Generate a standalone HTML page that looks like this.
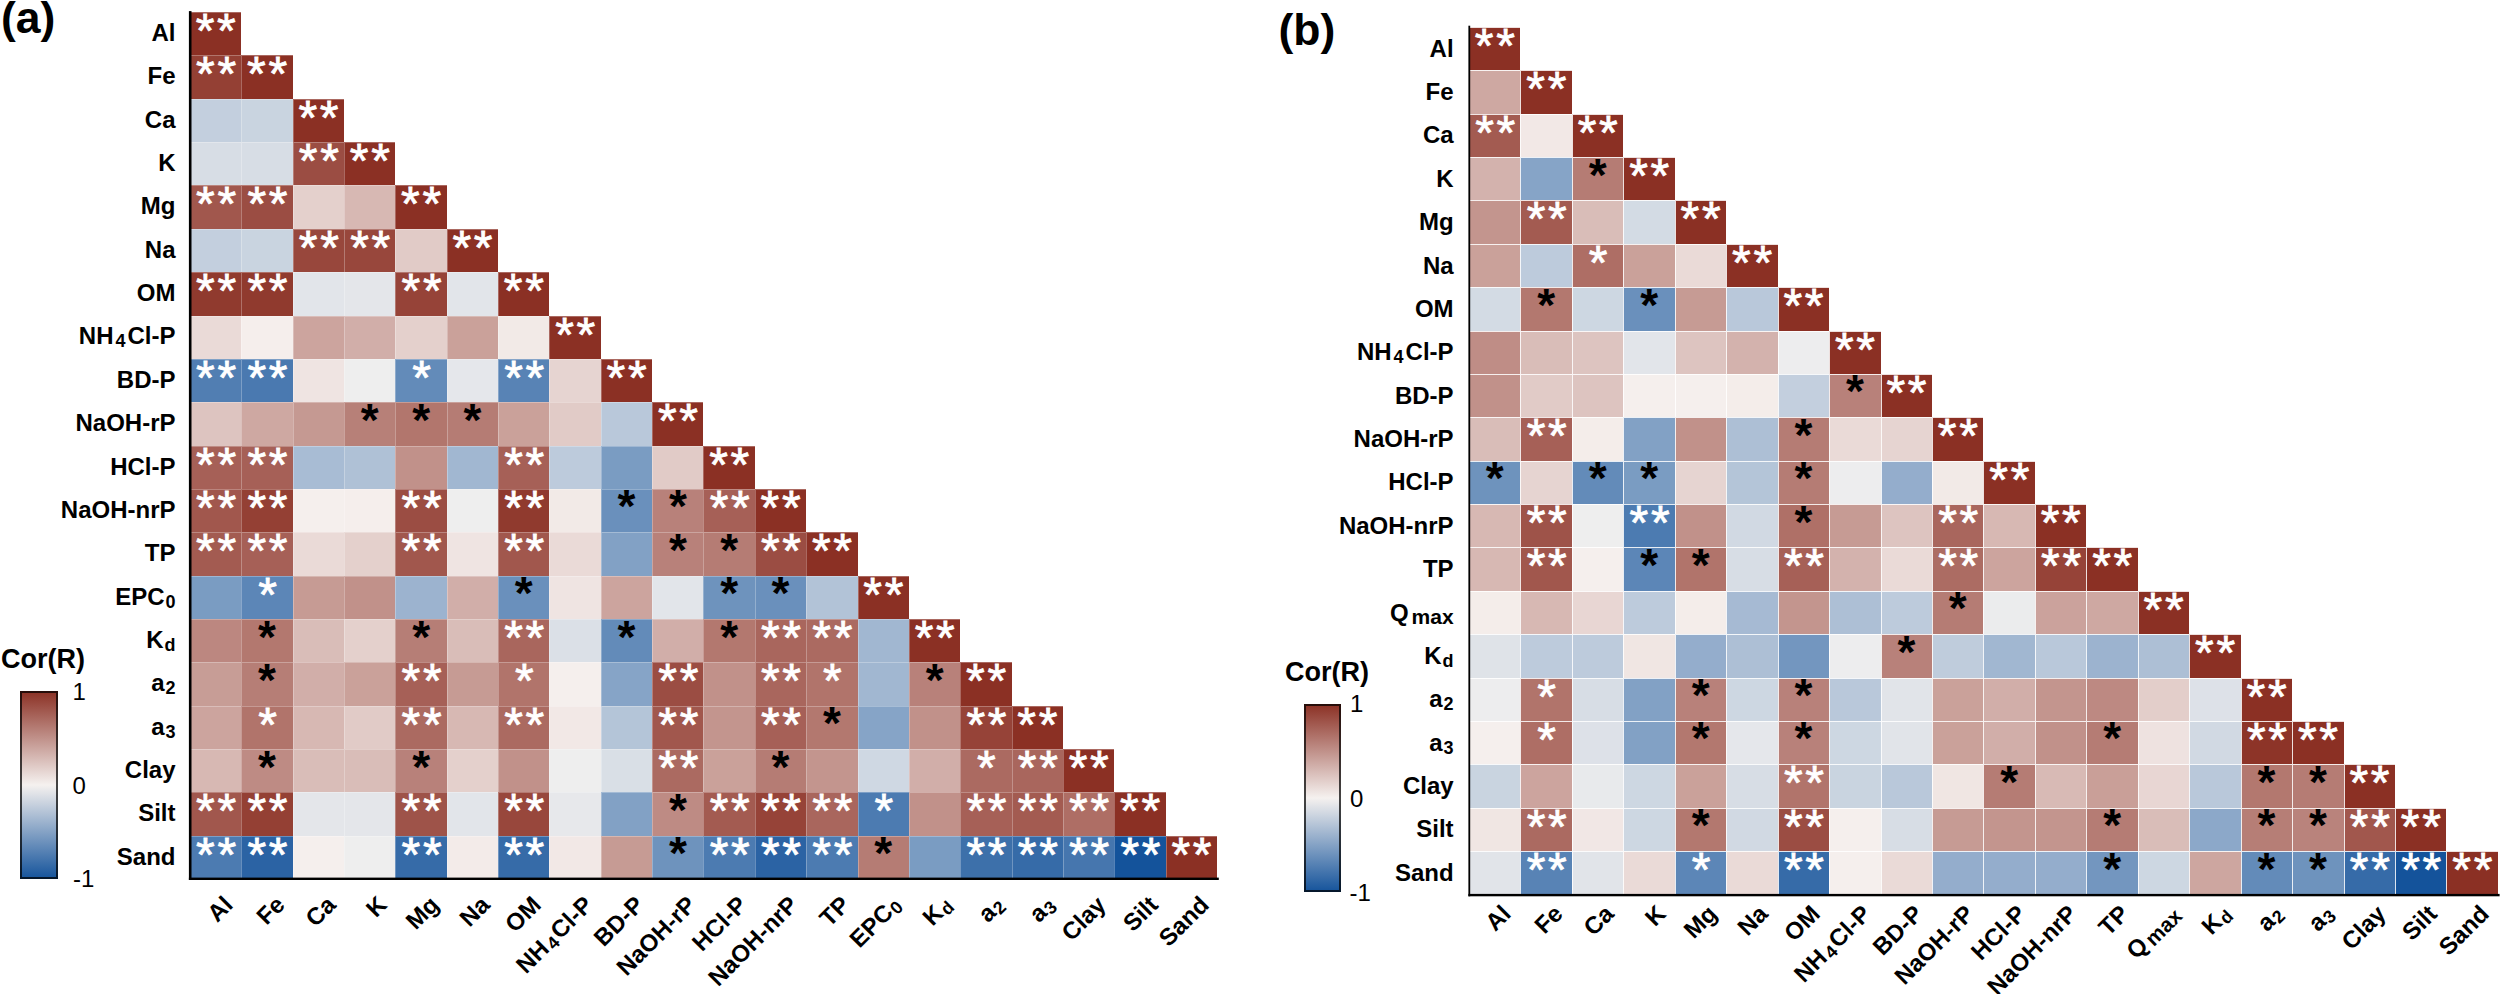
<!DOCTYPE html><html><head><meta charset="utf-8"><title>Correlation heatmaps</title><style>

html,body{margin:0;padding:0;background:#fff}
body{width:2500px;height:994px;position:relative;overflow:hidden;font-family:"Liberation Sans",Arial,sans-serif;color:#000}
.c{position:absolute;box-sizing:border-box;border-left:1px solid rgba(255,255,255,.28);border-top:1px solid rgba(255,255,255,.28);text-align:center;overflow:hidden}
.c b{display:block;font-size:48px;line-height:48px;margin-top:-6px;margin-left:-0.7px;letter-spacing:2.7px;padding-left:2.7px}
.c b.w{color:#fff;font-weight:400;-webkit-text-stroke:0.8px #fff}
.c b.k{color:#000;font-weight:700;font-size:46px;margin-top:-7.5px;margin-left:-1.6px}
.axs{position:absolute;left:0;top:0;pointer-events:none}
.c.sb2{border-left-color:rgba(255,255,255,.85);border-top-color:rgba(255,255,255,.85)}
.rl{position:absolute;text-align:right;font-weight:700;font-size:24px;line-height:30px;white-space:nowrap}
.cl{position:absolute;width:400px;height:30px;text-align:right;font-weight:700;font-size:24px;line-height:30px;white-space:nowrap;transform-origin:100% 80%;transform:rotate(-45deg)}
.sb{font-size:18px;position:relative;top:3px;margin-left:1px}
.sb.g{margin-left:2px;margin-right:2px}
.sb.g2{margin-left:3px;font-size:21px;top:3px}
.tag{position:absolute;font-weight:700;font-size:44.5px;line-height:48px}
.cb{position:absolute;box-sizing:border-box;border:2px solid rgba(0,0,0,.72);background-origin:border-box;background-image:linear-gradient(to bottom,#8b3024 0%,#f5f1ef 50%,#14539b 100%)}
.cbt{position:absolute;font-weight:700;font-size:27px;line-height:30px}
.tk{position:absolute;font-size:24px;line-height:26px}

</style></head><body>
<div class="tag" style="left:0.9px;top:-6.0px">(a)</div>
<div class="c sa" style="left:189.90px;top:12.00px;width:51.35px;height:44.16px;background:#8b3024"><b class="w">**</b></div>
<div class="c sa" style="left:189.90px;top:55.36px;width:52.15px;height:44.16px;background:#944034"><b class="w">**</b></div>
<div class="c sa" style="left:241.25px;top:55.36px;width:51.35px;height:44.16px;background:#8b3024"><b class="w">**</b></div>
<div class="c sa" style="left:189.90px;top:98.72px;width:52.15px;height:44.16px;background:#c3cfde"></div>
<div class="c sa" style="left:241.25px;top:98.72px;width:52.15px;height:44.16px;background:#c9d4e0"></div>
<div class="c sa" style="left:292.61px;top:98.72px;width:51.35px;height:44.16px;background:#8b3024"><b class="w">**</b></div>
<div class="c sa" style="left:189.90px;top:142.08px;width:52.15px;height:44.16px;background:#d7dde5"></div>
<div class="c sa" style="left:241.25px;top:142.08px;width:52.15px;height:44.16px;background:#d7dde5"></div>
<div class="c sa" style="left:292.61px;top:142.08px;width:52.15px;height:44.16px;background:#9b4d43"><b class="w">**</b></div>
<div class="c sa" style="left:343.97px;top:142.08px;width:51.35px;height:44.16px;background:#8b3024"><b class="w">**</b></div>
<div class="c sa" style="left:189.90px;top:185.44px;width:52.15px;height:44.16px;background:#a1574d"><b class="w">**</b></div>
<div class="c sa" style="left:241.25px;top:185.44px;width:52.15px;height:44.16px;background:#9b4d43"><b class="w">**</b></div>
<div class="c sa" style="left:292.61px;top:185.44px;width:52.15px;height:44.16px;background:#e4d0cc"></div>
<div class="c sa" style="left:343.97px;top:185.44px;width:52.15px;height:44.16px;background:#d7b8b3"></div>
<div class="c sa" style="left:395.32px;top:185.44px;width:51.35px;height:44.16px;background:#8b3024"><b class="w">**</b></div>
<div class="c sa" style="left:189.90px;top:228.80px;width:52.15px;height:44.16px;background:#c3cfde"></div>
<div class="c sa" style="left:241.25px;top:228.80px;width:52.15px;height:44.16px;background:#c9d4e0"></div>
<div class="c sa" style="left:292.61px;top:228.80px;width:52.15px;height:44.16px;background:#98473c"><b class="w">**</b></div>
<div class="c sa" style="left:343.97px;top:228.80px;width:52.15px;height:44.16px;background:#98473c"><b class="w">**</b></div>
<div class="c sa" style="left:395.32px;top:228.80px;width:52.15px;height:44.16px;background:#e1cbc7"></div>
<div class="c sa" style="left:446.67px;top:228.80px;width:51.35px;height:44.16px;background:#8b3024"><b class="w">**</b></div>
<div class="c sa" style="left:189.90px;top:272.16px;width:52.15px;height:44.16px;background:#903a2e"><b class="w">**</b></div>
<div class="c sa" style="left:241.25px;top:272.16px;width:52.15px;height:44.16px;background:#903a2e"><b class="w">**</b></div>
<div class="c sa" style="left:292.61px;top:272.16px;width:52.15px;height:44.16px;background:#e2e5ea"></div>
<div class="c sa" style="left:343.97px;top:272.16px;width:52.15px;height:44.16px;background:#e4e6ea"></div>
<div class="c sa" style="left:395.32px;top:272.16px;width:52.15px;height:44.16px;background:#964338"><b class="w">**</b></div>
<div class="c sa" style="left:446.67px;top:272.16px;width:52.15px;height:44.16px;background:#e2e5ea"></div>
<div class="c sa" style="left:498.03px;top:272.16px;width:51.35px;height:44.16px;background:#8b3024"><b class="w">**</b></div>
<div class="c sa" style="left:189.90px;top:315.52px;width:52.15px;height:44.16px;background:#eadad7"></div>
<div class="c sa" style="left:241.25px;top:315.52px;width:52.15px;height:44.16px;background:#f5eeec"></div>
<div class="c sa" style="left:292.61px;top:315.52px;width:52.15px;height:44.16px;background:#cca49e"></div>
<div class="c sa" style="left:343.97px;top:315.52px;width:52.15px;height:44.16px;background:#d1aea9"></div>
<div class="c sa" style="left:395.32px;top:315.52px;width:52.15px;height:44.16px;background:#e4d0cc"></div>
<div class="c sa" style="left:446.67px;top:315.52px;width:52.15px;height:44.16px;background:#caa19a"></div>
<div class="c sa" style="left:498.03px;top:315.52px;width:52.15px;height:44.16px;background:#f2eae7"></div>
<div class="c sa" style="left:549.38px;top:315.52px;width:51.35px;height:44.16px;background:#8b3024"><b class="w">**</b></div>
<div class="c sa" style="left:189.90px;top:358.88px;width:52.15px;height:44.16px;background:#517eb2"><b class="w">**</b></div>
<div class="c sa" style="left:241.25px;top:358.88px;width:52.15px;height:44.16px;background:#4a79b0"><b class="w">**</b></div>
<div class="c sa" style="left:292.61px;top:358.88px;width:52.15px;height:44.16px;background:#efe4e2"></div>
<div class="c sa" style="left:343.97px;top:358.88px;width:52.15px;height:44.16px;background:#eeeeee"></div>
<div class="c sa" style="left:395.32px;top:358.88px;width:52.15px;height:44.16px;background:#638bb9"><b class="w">*</b></div>
<div class="c sa" style="left:446.67px;top:358.88px;width:52.15px;height:44.16px;background:#e5e7eb"></div>
<div class="c sa" style="left:498.03px;top:358.88px;width:52.15px;height:44.16px;background:#5883b5"><b class="w">**</b></div>
<div class="c sa" style="left:549.38px;top:358.88px;width:52.15px;height:44.16px;background:#e6d4d1"></div>
<div class="c sa" style="left:600.74px;top:358.88px;width:51.35px;height:44.16px;background:#8b3024"><b class="w">**</b></div>
<div class="c sa" style="left:189.90px;top:402.24px;width:52.15px;height:44.16px;background:#ddc4c0"></div>
<div class="c sa" style="left:241.25px;top:402.24px;width:52.15px;height:44.16px;background:#cea8a2"></div>
<div class="c sa" style="left:292.61px;top:402.24px;width:52.15px;height:44.16px;background:#c59992"></div>
<div class="c sa" style="left:343.97px;top:402.24px;width:52.15px;height:44.16px;background:#b78078"><b class="k">*</b></div>
<div class="c sa" style="left:395.32px;top:402.24px;width:52.15px;height:44.16px;background:#b2766d"><b class="k">*</b></div>
<div class="c sa" style="left:446.67px;top:402.24px;width:52.15px;height:44.16px;background:#b57c74"><b class="k">*</b></div>
<div class="c sa" style="left:498.03px;top:402.24px;width:52.15px;height:44.16px;background:#caa19a"></div>
<div class="c sa" style="left:549.38px;top:402.24px;width:52.15px;height:44.16px;background:#e1cbc7"></div>
<div class="c sa" style="left:600.74px;top:402.24px;width:52.15px;height:44.16px;background:#b9c8da"></div>
<div class="c sa" style="left:652.10px;top:402.24px;width:51.35px;height:44.16px;background:#8b3024"><b class="w">**</b></div>
<div class="c sa" style="left:189.90px;top:445.60px;width:52.15px;height:44.16px;background:#a66057"><b class="w">**</b></div>
<div class="c sa" style="left:241.25px;top:445.60px;width:52.15px;height:44.16px;background:#a66057"><b class="w">**</b></div>
<div class="c sa" style="left:292.61px;top:445.60px;width:52.15px;height:44.16px;background:#a8bcd4"></div>
<div class="c sa" style="left:343.97px;top:445.60px;width:52.15px;height:44.16px;background:#afc1d6"></div>
<div class="c sa" style="left:395.32px;top:445.60px;width:52.15px;height:44.16px;background:#c1918a"></div>
<div class="c sa" style="left:446.67px;top:445.60px;width:52.15px;height:44.16px;background:#a1b7d1"></div>
<div class="c sa" style="left:498.03px;top:445.60px;width:52.15px;height:44.16px;background:#a66057"><b class="w">**</b></div>
<div class="c sa" style="left:549.38px;top:445.60px;width:52.15px;height:44.16px;background:#bdcbdc"></div>
<div class="c sa" style="left:600.74px;top:445.60px;width:52.15px;height:44.16px;background:#7a9cc2"></div>
<div class="c sa" style="left:652.10px;top:445.60px;width:52.15px;height:44.16px;background:#e1cbc7"></div>
<div class="c sa" style="left:703.45px;top:445.60px;width:51.35px;height:44.16px;background:#8b3024"><b class="w">**</b></div>
<div class="c sa" style="left:189.90px;top:488.96px;width:52.15px;height:44.16px;background:#a1574d"><b class="w">**</b></div>
<div class="c sa" style="left:241.25px;top:488.96px;width:52.15px;height:44.16px;background:#944034"><b class="w">**</b></div>
<div class="c sa" style="left:292.61px;top:488.96px;width:52.15px;height:44.16px;background:#f5efed"></div>
<div class="c sa" style="left:343.97px;top:488.96px;width:52.15px;height:44.16px;background:#f5eeec"></div>
<div class="c sa" style="left:395.32px;top:488.96px;width:52.15px;height:44.16px;background:#9b4d43"><b class="w">**</b></div>
<div class="c sa" style="left:446.67px;top:488.96px;width:52.15px;height:44.16px;background:#eeeeee"></div>
<div class="c sa" style="left:498.03px;top:488.96px;width:52.15px;height:44.16px;background:#903a2e"><b class="w">**</b></div>
<div class="c sa" style="left:549.38px;top:488.96px;width:52.15px;height:44.16px;background:#f2eae7"></div>
<div class="c sa" style="left:600.74px;top:488.96px;width:52.15px;height:44.16px;background:#6a90bc"><b class="k">*</b></div>
<div class="c sa" style="left:652.10px;top:488.96px;width:52.15px;height:44.16px;background:#b8817a"><b class="k">*</b></div>
<div class="c sa" style="left:703.45px;top:488.96px;width:52.15px;height:44.16px;background:#a66057"><b class="w">**</b></div>
<div class="c sa" style="left:754.80px;top:488.96px;width:51.35px;height:44.16px;background:#8b3024"><b class="w">**</b></div>
<div class="c sa" style="left:189.90px;top:532.32px;width:52.15px;height:44.16px;background:#a35b51"><b class="w">**</b></div>
<div class="c sa" style="left:241.25px;top:532.32px;width:52.15px;height:44.16px;background:#a66057"><b class="w">**</b></div>
<div class="c sa" style="left:292.61px;top:532.32px;width:52.15px;height:44.16px;background:#eadad7"></div>
<div class="c sa" style="left:343.97px;top:532.32px;width:52.15px;height:44.16px;background:#e4d0cc"></div>
<div class="c sa" style="left:395.32px;top:532.32px;width:52.15px;height:44.16px;background:#a1574d"><b class="w">**</b></div>
<div class="c sa" style="left:446.67px;top:532.32px;width:52.15px;height:44.16px;background:#efe4e2"></div>
<div class="c sa" style="left:498.03px;top:532.32px;width:52.15px;height:44.16px;background:#a1574d"><b class="w">**</b></div>
<div class="c sa" style="left:549.38px;top:532.32px;width:52.15px;height:44.16px;background:#eadad7"></div>
<div class="c sa" style="left:600.74px;top:532.32px;width:52.15px;height:44.16px;background:#82a1c5"></div>
<div class="c sa" style="left:652.10px;top:532.32px;width:52.15px;height:44.16px;background:#b8817a"><b class="k">*</b></div>
<div class="c sa" style="left:703.45px;top:532.32px;width:52.15px;height:44.16px;background:#b57c74"><b class="k">*</b></div>
<div class="c sa" style="left:754.80px;top:532.32px;width:52.15px;height:44.16px;background:#9b4d43"><b class="w">**</b></div>
<div class="c sa" style="left:806.16px;top:532.32px;width:51.35px;height:44.16px;background:#8b3024"><b class="w">**</b></div>
<div class="c sa" style="left:189.90px;top:575.68px;width:52.15px;height:44.16px;background:#7a9cc2"></div>
<div class="c sa" style="left:241.25px;top:575.68px;width:52.15px;height:44.16px;background:#5c86b7"><b class="w">*</b></div>
<div class="c sa" style="left:292.61px;top:575.68px;width:52.15px;height:44.16px;background:#c69b94"></div>
<div class="c sa" style="left:343.97px;top:575.68px;width:52.15px;height:44.16px;background:#c1918a"></div>
<div class="c sa" style="left:395.32px;top:575.68px;width:52.15px;height:44.16px;background:#9cb3cf"></div>
<div class="c sa" style="left:446.67px;top:575.68px;width:52.15px;height:44.16px;background:#d1aea9"></div>
<div class="c sa" style="left:498.03px;top:575.68px;width:52.15px;height:44.16px;background:#6a90bc"><b class="k">*</b></div>
<div class="c sa" style="left:549.38px;top:575.68px;width:52.15px;height:44.16px;background:#efe4e2"></div>
<div class="c sa" style="left:600.74px;top:575.68px;width:52.15px;height:44.16px;background:#cca49e"></div>
<div class="c sa" style="left:652.10px;top:575.68px;width:52.15px;height:44.16px;background:#e2e5ea"></div>
<div class="c sa" style="left:703.45px;top:575.68px;width:52.15px;height:44.16px;background:#6e93bd"><b class="k">*</b></div>
<div class="c sa" style="left:754.80px;top:575.68px;width:52.15px;height:44.16px;background:#6a90bc"><b class="k">*</b></div>
<div class="c sa" style="left:806.16px;top:575.68px;width:52.15px;height:44.16px;background:#b2c3d7"></div>
<div class="c sa" style="left:857.51px;top:575.68px;width:51.35px;height:44.16px;background:#8b3024"><b class="w">**</b></div>
<div class="c sa" style="left:189.90px;top:619.04px;width:52.15px;height:44.16px;background:#bc8780"></div>
<div class="c sa" style="left:241.25px;top:619.04px;width:52.15px;height:44.16px;background:#b3786f"><b class="k">*</b></div>
<div class="c sa" style="left:292.61px;top:619.04px;width:52.15px;height:44.16px;background:#d9bdb8"></div>
<div class="c sa" style="left:343.97px;top:619.04px;width:52.15px;height:44.16px;background:#e4d0cc"></div>
<div class="c sa" style="left:395.32px;top:619.04px;width:52.15px;height:44.16px;background:#b67e76"><b class="k">*</b></div>
<div class="c sa" style="left:446.67px;top:619.04px;width:52.15px;height:44.16px;background:#d9bdb8"></div>
<div class="c sa" style="left:498.03px;top:619.04px;width:52.15px;height:44.16px;background:#a9665d"><b class="w">**</b></div>
<div class="c sa" style="left:549.38px;top:619.04px;width:52.15px;height:44.16px;background:#dbe0e7"></div>
<div class="c sa" style="left:600.74px;top:619.04px;width:52.15px;height:44.16px;background:#638bb9"><b class="k">*</b></div>
<div class="c sa" style="left:652.10px;top:619.04px;width:52.15px;height:44.16px;background:#d1aea9"></div>
<div class="c sa" style="left:703.45px;top:619.04px;width:52.15px;height:44.16px;background:#b3786f"><b class="k">*</b></div>
<div class="c sa" style="left:754.80px;top:619.04px;width:52.15px;height:44.16px;background:#a9665d"><b class="w">**</b></div>
<div class="c sa" style="left:806.16px;top:619.04px;width:52.15px;height:44.16px;background:#ab6a61"><b class="w">**</b></div>
<div class="c sa" style="left:857.51px;top:619.04px;width:52.15px;height:44.16px;background:#a1b7d1"></div>
<div class="c sa" style="left:908.87px;top:619.04px;width:51.35px;height:44.16px;background:#8b3024"><b class="w">**</b></div>
<div class="c sa" style="left:189.90px;top:662.40px;width:52.15px;height:44.16px;background:#c79d96"></div>
<div class="c sa" style="left:241.25px;top:662.40px;width:52.15px;height:44.16px;background:#b67e76"><b class="k">*</b></div>
<div class="c sa" style="left:292.61px;top:662.40px;width:52.15px;height:44.16px;background:#d1aea9"></div>
<div class="c sa" style="left:343.97px;top:662.40px;width:52.15px;height:44.16px;background:#caa19a"></div>
<div class="c sa" style="left:395.32px;top:662.40px;width:52.15px;height:44.16px;background:#a66057"><b class="w">**</b></div>
<div class="c sa" style="left:446.67px;top:662.40px;width:52.15px;height:44.16px;background:#c69b94"></div>
<div class="c sa" style="left:498.03px;top:662.40px;width:52.15px;height:44.16px;background:#b1746b"><b class="w">*</b></div>
<div class="c sa" style="left:549.38px;top:662.40px;width:52.15px;height:44.16px;background:#f5efed"></div>
<div class="c sa" style="left:600.74px;top:662.40px;width:52.15px;height:44.16px;background:#86a4c7"></div>
<div class="c sa" style="left:652.10px;top:662.40px;width:52.15px;height:44.16px;background:#9b4d43"><b class="w">**</b></div>
<div class="c sa" style="left:703.45px;top:662.40px;width:52.15px;height:44.16px;background:#c1918a"></div>
<div class="c sa" style="left:754.80px;top:662.40px;width:52.15px;height:44.16px;background:#a9665d"><b class="w">**</b></div>
<div class="c sa" style="left:806.16px;top:662.40px;width:52.15px;height:44.16px;background:#b1746b"><b class="w">*</b></div>
<div class="c sa" style="left:857.51px;top:662.40px;width:52.15px;height:44.16px;background:#a1b7d1"></div>
<div class="c sa" style="left:908.87px;top:662.40px;width:52.15px;height:44.16px;background:#b8817a"><b class="k">*</b></div>
<div class="c sa" style="left:960.22px;top:662.40px;width:51.35px;height:44.16px;background:#8b3024"><b class="w">**</b></div>
<div class="c sa" style="left:189.90px;top:705.76px;width:52.15px;height:44.16px;background:#cca49e"></div>
<div class="c sa" style="left:241.25px;top:705.76px;width:52.15px;height:44.16px;background:#b1746b"><b class="w">*</b></div>
<div class="c sa" style="left:292.61px;top:705.76px;width:52.15px;height:44.16px;background:#d7b8b3"></div>
<div class="c sa" style="left:343.97px;top:705.76px;width:52.15px;height:44.16px;background:#e1cbc7"></div>
<div class="c sa" style="left:395.32px;top:705.76px;width:52.15px;height:44.16px;background:#ab6a61"><b class="w">**</b></div>
<div class="c sa" style="left:446.67px;top:705.76px;width:52.15px;height:44.16px;background:#d7b8b3"></div>
<div class="c sa" style="left:498.03px;top:705.76px;width:52.15px;height:44.16px;background:#ab6a61"><b class="w">**</b></div>
<div class="c sa" style="left:549.38px;top:705.76px;width:52.15px;height:44.16px;background:#f2e8e6"></div>
<div class="c sa" style="left:600.74px;top:705.76px;width:52.15px;height:44.16px;background:#b4c5d8"></div>
<div class="c sa" style="left:652.10px;top:705.76px;width:52.15px;height:44.16px;background:#a1574d"><b class="w">**</b></div>
<div class="c sa" style="left:703.45px;top:705.76px;width:52.15px;height:44.16px;background:#c3958e"></div>
<div class="c sa" style="left:754.80px;top:705.76px;width:52.15px;height:44.16px;background:#a66057"><b class="w">**</b></div>
<div class="c sa" style="left:806.16px;top:705.76px;width:52.15px;height:44.16px;background:#b3786f"><b class="k">*</b></div>
<div class="c sa" style="left:857.51px;top:705.76px;width:52.15px;height:44.16px;background:#86a4c7"></div>
<div class="c sa" style="left:908.87px;top:705.76px;width:52.15px;height:44.16px;background:#c1918a"></div>
<div class="c sa" style="left:960.22px;top:705.76px;width:52.15px;height:44.16px;background:#964338"><b class="w">**</b></div>
<div class="c sa" style="left:1011.58px;top:705.76px;width:51.35px;height:44.16px;background:#8b3024"><b class="w">**</b></div>
<div class="c sa" style="left:189.90px;top:749.12px;width:52.15px;height:44.16px;background:#d7b8b3"></div>
<div class="c sa" style="left:241.25px;top:749.12px;width:52.15px;height:44.16px;background:#be8b84"><b class="k">*</b></div>
<div class="c sa" style="left:292.61px;top:749.12px;width:52.15px;height:44.16px;background:#d9bdb8"></div>
<div class="c sa" style="left:343.97px;top:749.12px;width:52.15px;height:44.16px;background:#d9bdb8"></div>
<div class="c sa" style="left:395.32px;top:749.12px;width:52.15px;height:44.16px;background:#b8817a"><b class="k">*</b></div>
<div class="c sa" style="left:446.67px;top:749.12px;width:52.15px;height:44.16px;background:#e4d0cc"></div>
<div class="c sa" style="left:498.03px;top:749.12px;width:52.15px;height:44.16px;background:#c1918a"></div>
<div class="c sa" style="left:549.38px;top:749.12px;width:52.15px;height:44.16px;background:#eeeeee"></div>
<div class="c sa" style="left:600.74px;top:749.12px;width:52.15px;height:44.16px;background:#d9dfe6"></div>
<div class="c sa" style="left:652.10px;top:749.12px;width:52.15px;height:44.16px;background:#ab6a61"><b class="w">**</b></div>
<div class="c sa" style="left:703.45px;top:749.12px;width:52.15px;height:44.16px;background:#caa19a"></div>
<div class="c sa" style="left:754.80px;top:749.12px;width:52.15px;height:44.16px;background:#b57c74"><b class="k">*</b></div>
<div class="c sa" style="left:806.16px;top:749.12px;width:52.15px;height:44.16px;background:#c3958e"></div>
<div class="c sa" style="left:857.51px;top:749.12px;width:52.15px;height:44.16px;background:#cfd8e3"></div>
<div class="c sa" style="left:908.87px;top:749.12px;width:52.15px;height:44.16px;background:#d1aea9"></div>
<div class="c sa" style="left:960.22px;top:749.12px;width:52.15px;height:44.16px;background:#ab6a61"><b class="w">*</b></div>
<div class="c sa" style="left:1011.58px;top:749.12px;width:52.15px;height:44.16px;background:#a9665d"><b class="w">**</b></div>
<div class="c sa" style="left:1062.93px;top:749.12px;width:51.35px;height:44.16px;background:#8b3024"><b class="w">**</b></div>
<div class="c sa" style="left:189.90px;top:792.48px;width:52.15px;height:44.16px;background:#a1574d"><b class="w">**</b></div>
<div class="c sa" style="left:241.25px;top:792.48px;width:52.15px;height:44.16px;background:#944034"><b class="w">**</b></div>
<div class="c sa" style="left:292.61px;top:792.48px;width:52.15px;height:44.16px;background:#e4e6ea"></div>
<div class="c sa" style="left:343.97px;top:792.48px;width:52.15px;height:44.16px;background:#e4e6ea"></div>
<div class="c sa" style="left:395.32px;top:792.48px;width:52.15px;height:44.16px;background:#9e5349"><b class="w">**</b></div>
<div class="c sa" style="left:446.67px;top:792.48px;width:52.15px;height:44.16px;background:#e2e5ea"></div>
<div class="c sa" style="left:498.03px;top:792.48px;width:52.15px;height:44.16px;background:#98473c"><b class="w">**</b></div>
<div class="c sa" style="left:549.38px;top:792.48px;width:52.15px;height:44.16px;background:#e7e8eb"></div>
<div class="c sa" style="left:600.74px;top:792.48px;width:52.15px;height:44.16px;background:#82a1c5"></div>
<div class="c sa" style="left:652.10px;top:792.48px;width:52.15px;height:44.16px;background:#be8b84"><b class="k">*</b></div>
<div class="c sa" style="left:703.45px;top:792.48px;width:52.15px;height:44.16px;background:#a35b51"><b class="w">**</b></div>
<div class="c sa" style="left:754.80px;top:792.48px;width:52.15px;height:44.16px;background:#964338"><b class="w">**</b></div>
<div class="c sa" style="left:806.16px;top:792.48px;width:52.15px;height:44.16px;background:#a9665d"><b class="w">**</b></div>
<div class="c sa" style="left:857.51px;top:792.48px;width:52.15px;height:44.16px;background:#4c7bb1"><b class="w">*</b></div>
<div class="c sa" style="left:908.87px;top:792.48px;width:52.15px;height:44.16px;background:#c1918a"></div>
<div class="c sa" style="left:960.22px;top:792.48px;width:52.15px;height:44.16px;background:#a66057"><b class="w">**</b></div>
<div class="c sa" style="left:1011.58px;top:792.48px;width:52.15px;height:44.16px;background:#a35b51"><b class="w">**</b></div>
<div class="c sa" style="left:1062.93px;top:792.48px;width:52.15px;height:44.16px;background:#ae6e65"><b class="w">**</b></div>
<div class="c sa" style="left:1114.29px;top:792.48px;width:51.35px;height:44.16px;background:#8b3024"><b class="w">**</b></div>
<div class="c sa" style="left:189.90px;top:835.84px;width:52.15px;height:43.36px;background:#4c7bb1"><b class="w">**</b></div>
<div class="c sa" style="left:241.25px;top:835.84px;width:52.15px;height:43.36px;background:#2b63a4"><b class="w">**</b></div>
<div class="c sa" style="left:292.61px;top:835.84px;width:52.15px;height:43.36px;background:#f5efed"></div>
<div class="c sa" style="left:343.97px;top:835.84px;width:52.15px;height:43.36px;background:#eeeeee"></div>
<div class="c sa" style="left:395.32px;top:835.84px;width:52.15px;height:43.36px;background:#366ba8"><b class="w">**</b></div>
<div class="c sa" style="left:446.67px;top:835.84px;width:52.15px;height:43.36px;background:#f3ebe9"></div>
<div class="c sa" style="left:498.03px;top:835.84px;width:52.15px;height:43.36px;background:#366ba8"><b class="w">**</b></div>
<div class="c sa" style="left:549.38px;top:835.84px;width:52.15px;height:43.36px;background:#f2e8e6"></div>
<div class="c sa" style="left:600.74px;top:835.84px;width:52.15px;height:43.36px;background:#c69b94"></div>
<div class="c sa" style="left:652.10px;top:835.84px;width:52.15px;height:43.36px;background:#6e93bd"><b class="k">*</b></div>
<div class="c sa" style="left:703.45px;top:835.84px;width:52.15px;height:43.36px;background:#4c7bb1"><b class="w">**</b></div>
<div class="c sa" style="left:754.80px;top:835.84px;width:52.15px;height:43.36px;background:#2b63a4"><b class="w">**</b></div>
<div class="c sa" style="left:806.16px;top:835.84px;width:52.15px;height:43.36px;background:#4c7bb1"><b class="w">**</b></div>
<div class="c sa" style="left:857.51px;top:835.84px;width:52.15px;height:43.36px;background:#b57c74"><b class="k">*</b></div>
<div class="c sa" style="left:908.87px;top:835.84px;width:52.15px;height:43.36px;background:#7a9cc2"></div>
<div class="c sa" style="left:960.22px;top:835.84px;width:52.15px;height:43.36px;background:#3d70aa"><b class="w">**</b></div>
<div class="c sa" style="left:1011.58px;top:835.84px;width:52.15px;height:43.36px;background:#366ba8"><b class="w">**</b></div>
<div class="c sa" style="left:1062.93px;top:835.84px;width:52.15px;height:43.36px;background:#4676ae"><b class="w">**</b></div>
<div class="c sa" style="left:1114.29px;top:835.84px;width:52.15px;height:43.36px;background:#14539b"><b class="w">**</b></div>
<div class="c sa" style="left:1165.64px;top:835.84px;width:51.35px;height:43.36px;background:#8b3024"><b class="w">**</b></div>
<svg class="axs" width="2500" height="994" viewBox="0 0 2500 994"><rect x="188.90" y="11.10" width="2.60" height="868.90" fill="#000"/><rect x="188.90" y="877.60" width="1029.90" height="2.40" fill="#000"/></svg>
<div class="rl" style="left:-124.5px;top:17.9px;width:300px">Al</div>
<div class="rl" style="left:-124.5px;top:61.2px;width:300px">Fe</div>
<div class="rl" style="left:-124.5px;top:104.6px;width:300px">Ca</div>
<div class="rl" style="left:-124.5px;top:148.0px;width:300px">K</div>
<div class="rl" style="left:-124.5px;top:191.3px;width:300px">Mg</div>
<div class="rl" style="left:-124.5px;top:234.7px;width:300px">Na</div>
<div class="rl" style="left:-124.5px;top:278.0px;width:300px">OM</div>
<div class="rl" style="left:-124.5px;top:321.4px;width:300px">NH<span class="sb g">4</span>Cl-P</div>
<div class="rl" style="left:-124.5px;top:364.8px;width:300px">BD-P</div>
<div class="rl" style="left:-124.5px;top:408.1px;width:300px">NaOH-rP</div>
<div class="rl" style="left:-124.5px;top:451.5px;width:300px">HCl-P</div>
<div class="rl" style="left:-124.5px;top:494.8px;width:300px">NaOH-nrP</div>
<div class="rl" style="left:-124.5px;top:538.2px;width:300px">TP</div>
<div class="rl" style="left:-124.5px;top:581.6px;width:300px">EPC<span class="sb">0</span></div>
<div class="rl" style="left:-124.5px;top:624.9px;width:300px">K<span class="sb">d</span></div>
<div class="rl" style="left:-124.5px;top:668.3px;width:300px">a<span class="sb">2</span></div>
<div class="rl" style="left:-124.5px;top:711.6px;width:300px">a<span class="sb">3</span></div>
<div class="rl" style="left:-124.5px;top:755.0px;width:300px">Clay</div>
<div class="rl" style="left:-124.5px;top:798.4px;width:300px">Silt</div>
<div class="rl" style="left:-124.5px;top:841.7px;width:300px">Sand</div>
<div class="cl" style="left:-164.7px;top:883.2px">Al</div>
<div class="cl" style="left:-113.4px;top:883.2px">Fe</div>
<div class="cl" style="left:-62.0px;top:883.2px">Ca</div>
<div class="cl" style="left:-10.7px;top:883.2px">K</div>
<div class="cl" style="left:40.7px;top:883.2px">Mg</div>
<div class="cl" style="left:92.1px;top:883.2px">Na</div>
<div class="cl" style="left:143.4px;top:883.2px">OM</div>
<div class="cl" style="left:194.8px;top:883.2px">NH<span class="sb g">4</span>Cl-P</div>
<div class="cl" style="left:246.1px;top:883.2px">BD-P</div>
<div class="cl" style="left:297.5px;top:883.2px">NaOH-rP</div>
<div class="cl" style="left:348.8px;top:883.2px">HCl-P</div>
<div class="cl" style="left:400.2px;top:883.2px">NaOH-nrP</div>
<div class="cl" style="left:451.5px;top:883.2px">TP</div>
<div class="cl" style="left:502.9px;top:883.2px">EPC<span class="sb">0</span></div>
<div class="cl" style="left:554.2px;top:883.2px">K<span class="sb">d</span></div>
<div class="cl" style="left:605.6px;top:883.2px">a<span class="sb">2</span></div>
<div class="cl" style="left:657.0px;top:883.2px">a<span class="sb">3</span></div>
<div class="cl" style="left:708.3px;top:883.2px">Clay</div>
<div class="cl" style="left:759.7px;top:883.2px">Silt</div>
<div class="cl" style="left:811.0px;top:883.2px">Sand</div>
<div class="cb" style="left:20.0px;top:691.0px;width:38.0px;height:188.0px"></div>
<div class="cbt" style="left:1.0px;top:644.0px">Cor(R)</div>
<div class="tk" style="left:72.5px;top:678.5px">1</div>
<div class="tk" style="left:72.5px;top:773.0px">0</div>
<div class="tk" style="left:73.0px;top:866.0px">-1</div>
<div class="tag" style="left:1278.5px;top:6.0px">(b)</div>
<div class="c sb2" style="left:1469.00px;top:27.00px;width:51.45px;height:44.17px;background:#8b3024"><b class="w">**</b></div>
<div class="c sb2" style="left:1469.00px;top:70.37px;width:52.25px;height:44.17px;background:#cea8a2"></div>
<div class="c sb2" style="left:1520.44px;top:70.37px;width:51.45px;height:44.17px;background:#8b3024"><b class="w">**</b></div>
<div class="c sb2" style="left:1469.00px;top:113.74px;width:52.25px;height:44.17px;background:#a35b51"><b class="w">**</b></div>
<div class="c sb2" style="left:1520.44px;top:113.74px;width:52.25px;height:44.17px;background:#f2e8e6"></div>
<div class="c sb2" style="left:1571.89px;top:113.74px;width:51.45px;height:44.17px;background:#8b3024"><b class="w">**</b></div>
<div class="c sb2" style="left:1469.00px;top:157.11px;width:52.25px;height:44.17px;background:#d3b2ad"></div>
<div class="c sb2" style="left:1520.44px;top:157.11px;width:52.25px;height:44.17px;background:#86a4c7"></div>
<div class="c sb2" style="left:1571.89px;top:157.11px;width:52.25px;height:44.17px;background:#b57c74"><b class="k">*</b></div>
<div class="c sb2" style="left:1623.34px;top:157.11px;width:51.45px;height:44.17px;background:#8b3024"><b class="w">**</b></div>
<div class="c sb2" style="left:1469.00px;top:200.48px;width:52.25px;height:44.17px;background:#c3958e"></div>
<div class="c sb2" style="left:1520.44px;top:200.48px;width:52.25px;height:44.17px;background:#a35b51"><b class="w">**</b></div>
<div class="c sb2" style="left:1571.89px;top:200.48px;width:52.25px;height:44.17px;background:#d9bdb8"></div>
<div class="c sb2" style="left:1623.34px;top:200.48px;width:52.25px;height:44.17px;background:#d3dbe4"></div>
<div class="c sb2" style="left:1674.78px;top:200.48px;width:51.45px;height:44.17px;background:#8b3024"><b class="w">**</b></div>
<div class="c sb2" style="left:1469.00px;top:243.85px;width:52.25px;height:44.17px;background:#caa19a"></div>
<div class="c sb2" style="left:1520.44px;top:243.85px;width:52.25px;height:44.17px;background:#bdcbdc"></div>
<div class="c sb2" style="left:1571.89px;top:243.85px;width:52.25px;height:44.17px;background:#ae6e65"><b class="w">*</b></div>
<div class="c sb2" style="left:1623.34px;top:243.85px;width:52.25px;height:44.17px;background:#caa19a"></div>
<div class="c sb2" style="left:1674.78px;top:243.85px;width:52.25px;height:44.17px;background:#eadad7"></div>
<div class="c sb2" style="left:1726.22px;top:243.85px;width:51.45px;height:44.17px;background:#8b3024"><b class="w">**</b></div>
<div class="c sb2" style="left:1469.00px;top:287.22px;width:52.25px;height:44.17px;background:#d3dbe4"></div>
<div class="c sb2" style="left:1520.44px;top:287.22px;width:52.25px;height:44.17px;background:#b3786f"><b class="k">*</b></div>
<div class="c sb2" style="left:1571.89px;top:287.22px;width:52.25px;height:44.17px;background:#cdd7e2"></div>
<div class="c sb2" style="left:1623.34px;top:287.22px;width:52.25px;height:44.17px;background:#6a90bc"><b class="k">*</b></div>
<div class="c sb2" style="left:1674.78px;top:287.22px;width:52.25px;height:44.17px;background:#c69b94"></div>
<div class="c sb2" style="left:1726.22px;top:287.22px;width:52.25px;height:44.17px;background:#b9c8da"></div>
<div class="c sb2" style="left:1777.67px;top:287.22px;width:51.45px;height:44.17px;background:#8b3024"><b class="w">**</b></div>
<div class="c sb2" style="left:1469.00px;top:330.59px;width:52.25px;height:44.17px;background:#bf8d86"></div>
<div class="c sb2" style="left:1520.44px;top:330.59px;width:52.25px;height:44.17px;background:#d9bdb8"></div>
<div class="c sb2" style="left:1571.89px;top:330.59px;width:52.25px;height:44.17px;background:#ddc4c0"></div>
<div class="c sb2" style="left:1623.34px;top:330.59px;width:52.25px;height:44.17px;background:#e2e5ea"></div>
<div class="c sb2" style="left:1674.78px;top:330.59px;width:52.25px;height:44.17px;background:#ddc4c0"></div>
<div class="c sb2" style="left:1726.22px;top:330.59px;width:52.25px;height:44.17px;background:#d3b2ad"></div>
<div class="c sb2" style="left:1777.67px;top:330.59px;width:52.25px;height:44.17px;background:#ededee"></div>
<div class="c sb2" style="left:1829.12px;top:330.59px;width:51.45px;height:44.17px;background:#8b3024"><b class="w">**</b></div>
<div class="c sb2" style="left:1469.00px;top:373.96px;width:52.25px;height:44.17px;background:#c1918a"></div>
<div class="c sb2" style="left:1520.44px;top:373.96px;width:52.25px;height:44.17px;background:#e1cbc7"></div>
<div class="c sb2" style="left:1571.89px;top:373.96px;width:52.25px;height:44.17px;background:#ddc4c0"></div>
<div class="c sb2" style="left:1623.34px;top:373.96px;width:52.25px;height:44.17px;background:#f5efed"></div>
<div class="c sb2" style="left:1674.78px;top:373.96px;width:52.25px;height:44.17px;background:#f5efed"></div>
<div class="c sb2" style="left:1726.22px;top:373.96px;width:52.25px;height:44.17px;background:#f4edea"></div>
<div class="c sb2" style="left:1777.67px;top:373.96px;width:52.25px;height:44.17px;background:#c3cfde"></div>
<div class="c sb2" style="left:1829.12px;top:373.96px;width:52.25px;height:44.17px;background:#b8817a"><b class="k">*</b></div>
<div class="c sb2" style="left:1880.56px;top:373.96px;width:51.45px;height:44.17px;background:#8b3024"><b class="w">**</b></div>
<div class="c sb2" style="left:1469.00px;top:417.33px;width:52.25px;height:44.17px;background:#d9bdb8"></div>
<div class="c sb2" style="left:1520.44px;top:417.33px;width:52.25px;height:44.17px;background:#a66057"><b class="w">**</b></div>
<div class="c sb2" style="left:1571.89px;top:417.33px;width:52.25px;height:44.17px;background:#f4edea"></div>
<div class="c sb2" style="left:1623.34px;top:417.33px;width:52.25px;height:44.17px;background:#82a1c5"></div>
<div class="c sb2" style="left:1674.78px;top:417.33px;width:52.25px;height:44.17px;background:#c1918a"></div>
<div class="c sb2" style="left:1726.22px;top:417.33px;width:52.25px;height:44.17px;background:#adbfd5"></div>
<div class="c sb2" style="left:1777.67px;top:417.33px;width:52.25px;height:44.17px;background:#b57c74"><b class="k">*</b></div>
<div class="c sb2" style="left:1829.12px;top:417.33px;width:52.25px;height:44.17px;background:#eadad7"></div>
<div class="c sb2" style="left:1880.56px;top:417.33px;width:52.25px;height:44.17px;background:#e6d4d1"></div>
<div class="c sb2" style="left:1932.01px;top:417.33px;width:51.45px;height:44.17px;background:#8b3024"><b class="w">**</b></div>
<div class="c sb2" style="left:1469.00px;top:460.70px;width:52.25px;height:44.17px;background:#6e93bd"><b class="k">*</b></div>
<div class="c sb2" style="left:1520.44px;top:460.70px;width:52.25px;height:44.17px;background:#e6d4d1"></div>
<div class="c sb2" style="left:1571.89px;top:460.70px;width:52.25px;height:44.17px;background:#638bb9"><b class="k">*</b></div>
<div class="c sb2" style="left:1623.34px;top:460.70px;width:52.25px;height:44.17px;background:#7a9cc2"><b class="k">*</b></div>
<div class="c sb2" style="left:1674.78px;top:460.70px;width:52.25px;height:44.17px;background:#e6d4d1"></div>
<div class="c sb2" style="left:1726.22px;top:460.70px;width:52.25px;height:44.17px;background:#b4c5d8"></div>
<div class="c sb2" style="left:1777.67px;top:460.70px;width:52.25px;height:44.17px;background:#b57c74"><b class="k">*</b></div>
<div class="c sb2" style="left:1829.12px;top:460.70px;width:52.25px;height:44.17px;background:#ededee"></div>
<div class="c sb2" style="left:1880.56px;top:460.70px;width:52.25px;height:44.17px;background:#94adcc"></div>
<div class="c sb2" style="left:1932.01px;top:460.70px;width:52.25px;height:44.17px;background:#f2eae7"></div>
<div class="c sb2" style="left:1983.45px;top:460.70px;width:51.45px;height:44.17px;background:#8b3024"><b class="w">**</b></div>
<div class="c sb2" style="left:1469.00px;top:504.07px;width:52.25px;height:44.17px;background:#d7b8b3"></div>
<div class="c sb2" style="left:1520.44px;top:504.07px;width:52.25px;height:44.17px;background:#9e5349"><b class="w">**</b></div>
<div class="c sb2" style="left:1571.89px;top:504.07px;width:52.25px;height:44.17px;background:#eeeeee"></div>
<div class="c sb2" style="left:1623.34px;top:504.07px;width:52.25px;height:44.17px;background:#4c7bb1"><b class="w">**</b></div>
<div class="c sb2" style="left:1674.78px;top:504.07px;width:52.25px;height:44.17px;background:#c1918a"></div>
<div class="c sb2" style="left:1726.22px;top:504.07px;width:52.25px;height:44.17px;background:#d1d9e3"></div>
<div class="c sb2" style="left:1777.67px;top:504.07px;width:52.25px;height:44.17px;background:#af7067"><b class="k">*</b></div>
<div class="c sb2" style="left:1829.12px;top:504.07px;width:52.25px;height:44.17px;background:#c69b94"></div>
<div class="c sb2" style="left:1880.56px;top:504.07px;width:52.25px;height:44.17px;background:#ddc4c0"></div>
<div class="c sb2" style="left:1932.01px;top:504.07px;width:52.25px;height:44.17px;background:#a9665d"><b class="w">**</b></div>
<div class="c sb2" style="left:1983.45px;top:504.07px;width:52.25px;height:44.17px;background:#d7b8b3"></div>
<div class="c sb2" style="left:2034.89px;top:504.07px;width:51.45px;height:44.17px;background:#8b3024"><b class="w">**</b></div>
<div class="c sb2" style="left:1469.00px;top:547.44px;width:52.25px;height:44.17px;background:#d7b8b3"></div>
<div class="c sb2" style="left:1520.44px;top:547.44px;width:52.25px;height:44.17px;background:#a1574d"><b class="w">**</b></div>
<div class="c sb2" style="left:1571.89px;top:547.44px;width:52.25px;height:44.17px;background:#f5efed"></div>
<div class="c sb2" style="left:1623.34px;top:547.44px;width:52.25px;height:44.17px;background:#5c86b7"><b class="k">*</b></div>
<div class="c sb2" style="left:1674.78px;top:547.44px;width:52.25px;height:44.17px;background:#b1746b"><b class="k">*</b></div>
<div class="c sb2" style="left:1726.22px;top:547.44px;width:52.25px;height:44.17px;background:#d7dde5"></div>
<div class="c sb2" style="left:1777.67px;top:547.44px;width:52.25px;height:44.17px;background:#a66057"><b class="w">**</b></div>
<div class="c sb2" style="left:1829.12px;top:547.44px;width:52.25px;height:44.17px;background:#d3b2ad"></div>
<div class="c sb2" style="left:1880.56px;top:547.44px;width:52.25px;height:44.17px;background:#eadad7"></div>
<div class="c sb2" style="left:1932.01px;top:547.44px;width:52.25px;height:44.17px;background:#ac6c63"><b class="w">**</b></div>
<div class="c sb2" style="left:1983.45px;top:547.44px;width:52.25px;height:44.17px;background:#cca49e"></div>
<div class="c sb2" style="left:2034.89px;top:547.44px;width:52.25px;height:44.17px;background:#964338"><b class="w">**</b></div>
<div class="c sb2" style="left:2086.34px;top:547.44px;width:51.45px;height:44.17px;background:#8b3024"><b class="w">**</b></div>
<div class="c sb2" style="left:1469.00px;top:590.81px;width:52.25px;height:44.17px;background:#f4edea"></div>
<div class="c sb2" style="left:1520.44px;top:590.81px;width:52.25px;height:44.17px;background:#d7b8b3"></div>
<div class="c sb2" style="left:1571.89px;top:590.81px;width:52.25px;height:44.17px;background:#e8d6d3"></div>
<div class="c sb2" style="left:1623.34px;top:590.81px;width:52.25px;height:44.17px;background:#bdcbdc"></div>
<div class="c sb2" style="left:1674.78px;top:590.81px;width:52.25px;height:44.17px;background:#f4edea"></div>
<div class="c sb2" style="left:1726.22px;top:590.81px;width:52.25px;height:44.17px;background:#a6bad3"></div>
<div class="c sb2" style="left:1777.67px;top:590.81px;width:52.25px;height:44.17px;background:#c3958e"></div>
<div class="c sb2" style="left:1829.12px;top:590.81px;width:52.25px;height:44.17px;background:#adbfd5"></div>
<div class="c sb2" style="left:1880.56px;top:590.81px;width:52.25px;height:44.17px;background:#bdcbdc"></div>
<div class="c sb2" style="left:1932.01px;top:590.81px;width:52.25px;height:44.17px;background:#b57c74"><b class="k">*</b></div>
<div class="c sb2" style="left:1983.45px;top:590.81px;width:52.25px;height:44.17px;background:#ebeced"></div>
<div class="c sb2" style="left:2034.89px;top:590.81px;width:52.25px;height:44.17px;background:#cba29c"></div>
<div class="c sb2" style="left:2086.34px;top:590.81px;width:52.25px;height:44.17px;background:#cea8a2"></div>
<div class="c sb2" style="left:2137.78px;top:590.81px;width:51.45px;height:44.17px;background:#8b3024"><b class="w">**</b></div>
<div class="c sb2" style="left:1469.00px;top:634.18px;width:52.25px;height:44.17px;background:#dfe3e8"></div>
<div class="c sb2" style="left:1520.44px;top:634.18px;width:52.25px;height:44.17px;background:#bdcbdc"></div>
<div class="c sb2" style="left:1571.89px;top:634.18px;width:52.25px;height:44.17px;background:#bdcbdc"></div>
<div class="c sb2" style="left:1623.34px;top:634.18px;width:52.25px;height:44.17px;background:#f0e6e3"></div>
<div class="c sb2" style="left:1674.78px;top:634.18px;width:52.25px;height:44.17px;background:#94adcc"></div>
<div class="c sb2" style="left:1726.22px;top:634.18px;width:52.25px;height:44.17px;background:#adbfd5"></div>
<div class="c sb2" style="left:1777.67px;top:634.18px;width:52.25px;height:44.17px;background:#7396bf"></div>
<div class="c sb2" style="left:1829.12px;top:634.18px;width:52.25px;height:44.17px;background:#ededee"></div>
<div class="c sb2" style="left:1880.56px;top:634.18px;width:52.25px;height:44.17px;background:#b8817a"><b class="k">*</b></div>
<div class="c sb2" style="left:1932.01px;top:634.18px;width:52.25px;height:44.17px;background:#bfccdc"></div>
<div class="c sb2" style="left:1983.45px;top:634.18px;width:52.25px;height:44.17px;background:#a1b7d1"></div>
<div class="c sb2" style="left:2034.89px;top:634.18px;width:52.25px;height:44.17px;background:#b9c8da"></div>
<div class="c sb2" style="left:2086.34px;top:634.18px;width:52.25px;height:44.17px;background:#9cb3cf"></div>
<div class="c sb2" style="left:2137.78px;top:634.18px;width:52.25px;height:44.17px;background:#adbfd5"></div>
<div class="c sb2" style="left:2189.23px;top:634.18px;width:51.45px;height:44.17px;background:#8b3024"><b class="w">**</b></div>
<div class="c sb2" style="left:1469.00px;top:677.55px;width:52.25px;height:44.17px;background:#ededee"></div>
<div class="c sb2" style="left:1520.44px;top:677.55px;width:52.25px;height:44.17px;background:#b1746b"><b class="w">*</b></div>
<div class="c sb2" style="left:1571.89px;top:677.55px;width:52.25px;height:44.17px;background:#d7dde5"></div>
<div class="c sb2" style="left:1623.34px;top:677.55px;width:52.25px;height:44.17px;background:#82a1c5"></div>
<div class="c sb2" style="left:1674.78px;top:677.55px;width:52.25px;height:44.17px;background:#b8817a"><b class="k">*</b></div>
<div class="c sb2" style="left:1726.22px;top:677.55px;width:52.25px;height:44.17px;background:#cdd7e2"></div>
<div class="c sb2" style="left:1777.67px;top:677.55px;width:52.25px;height:44.17px;background:#b8817a"><b class="k">*</b></div>
<div class="c sb2" style="left:1829.12px;top:677.55px;width:52.25px;height:44.17px;background:#b9c8da"></div>
<div class="c sb2" style="left:1880.56px;top:677.55px;width:52.25px;height:44.17px;background:#e1e4e9"></div>
<div class="c sb2" style="left:1932.01px;top:677.55px;width:52.25px;height:44.17px;background:#caa19a"></div>
<div class="c sb2" style="left:1983.45px;top:677.55px;width:52.25px;height:44.17px;background:#d1aea9"></div>
<div class="c sb2" style="left:2034.89px;top:677.55px;width:52.25px;height:44.17px;background:#c3958e"></div>
<div class="c sb2" style="left:2086.34px;top:677.55px;width:52.25px;height:44.17px;background:#bd8982"></div>
<div class="c sb2" style="left:2137.78px;top:677.55px;width:52.25px;height:44.17px;background:#e3ceca"></div>
<div class="c sb2" style="left:2189.23px;top:677.55px;width:52.25px;height:44.17px;background:#dde1e8"></div>
<div class="c sb2" style="left:2240.68px;top:677.55px;width:51.45px;height:44.17px;background:#8b3024"><b class="w">**</b></div>
<div class="c sb2" style="left:1469.00px;top:720.92px;width:52.25px;height:44.17px;background:#f5efed"></div>
<div class="c sb2" style="left:1520.44px;top:720.92px;width:52.25px;height:44.17px;background:#ae6e65"><b class="w">*</b></div>
<div class="c sb2" style="left:1571.89px;top:720.92px;width:52.25px;height:44.17px;background:#dde1e8"></div>
<div class="c sb2" style="left:1623.34px;top:720.92px;width:52.25px;height:44.17px;background:#82a1c5"></div>
<div class="c sb2" style="left:1674.78px;top:720.92px;width:52.25px;height:44.17px;background:#b3786f"><b class="k">*</b></div>
<div class="c sb2" style="left:1726.22px;top:720.92px;width:52.25px;height:44.17px;background:#e5e7eb"></div>
<div class="c sb2" style="left:1777.67px;top:720.92px;width:52.25px;height:44.17px;background:#b8817a"><b class="k">*</b></div>
<div class="c sb2" style="left:1829.12px;top:720.92px;width:52.25px;height:44.17px;background:#cdd7e2"></div>
<div class="c sb2" style="left:1880.56px;top:720.92px;width:52.25px;height:44.17px;background:#e1e4e9"></div>
<div class="c sb2" style="left:1932.01px;top:720.92px;width:52.25px;height:44.17px;background:#caa19a"></div>
<div class="c sb2" style="left:1983.45px;top:720.92px;width:52.25px;height:44.17px;background:#d1aea9"></div>
<div class="c sb2" style="left:2034.89px;top:720.92px;width:52.25px;height:44.17px;background:#c1918a"></div>
<div class="c sb2" style="left:2086.34px;top:720.92px;width:52.25px;height:44.17px;background:#b57c74"><b class="k">*</b></div>
<div class="c sb2" style="left:2137.78px;top:720.92px;width:52.25px;height:44.17px;background:#eee2e0"></div>
<div class="c sb2" style="left:2189.23px;top:720.92px;width:52.25px;height:44.17px;background:#d1d9e3"></div>
<div class="c sb2" style="left:2240.68px;top:720.92px;width:52.25px;height:44.17px;background:#8d3428"><b class="w">**</b></div>
<div class="c sb2" style="left:2292.12px;top:720.92px;width:51.45px;height:44.17px;background:#8b3024"><b class="w">**</b></div>
<div class="c sb2" style="left:1469.00px;top:764.29px;width:52.25px;height:44.17px;background:#c9d4e0"></div>
<div class="c sb2" style="left:1520.44px;top:764.29px;width:52.25px;height:44.17px;background:#cca49e"></div>
<div class="c sb2" style="left:1571.89px;top:764.29px;width:52.25px;height:44.17px;background:#e8eaec"></div>
<div class="c sb2" style="left:1623.34px;top:764.29px;width:52.25px;height:44.17px;background:#cdd7e2"></div>
<div class="c sb2" style="left:1674.78px;top:764.29px;width:52.25px;height:44.17px;background:#caa19a"></div>
<div class="c sb2" style="left:1726.22px;top:764.29px;width:52.25px;height:44.17px;background:#d7dde5"></div>
<div class="c sb2" style="left:1777.67px;top:764.29px;width:52.25px;height:44.17px;background:#b1746b"><b class="w">**</b></div>
<div class="c sb2" style="left:1829.12px;top:764.29px;width:52.25px;height:44.17px;background:#c9d4e0"></div>
<div class="c sb2" style="left:1880.56px;top:764.29px;width:52.25px;height:44.17px;background:#b9c8da"></div>
<div class="c sb2" style="left:1932.01px;top:764.29px;width:52.25px;height:44.17px;background:#f0e6e3"></div>
<div class="c sb2" style="left:1983.45px;top:764.29px;width:52.25px;height:44.17px;background:#b57c74"><b class="k">*</b></div>
<div class="c sb2" style="left:2034.89px;top:764.29px;width:52.25px;height:44.17px;background:#d8bab5"></div>
<div class="c sb2" style="left:2086.34px;top:764.29px;width:52.25px;height:44.17px;background:#c99f98"></div>
<div class="c sb2" style="left:2137.78px;top:764.29px;width:52.25px;height:44.17px;background:#e8d6d3"></div>
<div class="c sb2" style="left:2189.23px;top:764.29px;width:52.25px;height:44.17px;background:#b9c8da"></div>
<div class="c sb2" style="left:2240.68px;top:764.29px;width:52.25px;height:44.17px;background:#b3786f"><b class="k">*</b></div>
<div class="c sb2" style="left:2292.12px;top:764.29px;width:52.25px;height:44.17px;background:#b57c74"><b class="k">*</b></div>
<div class="c sb2" style="left:2343.57px;top:764.29px;width:51.45px;height:44.17px;background:#8b3024"><b class="w">**</b></div>
<div class="c sb2" style="left:1469.00px;top:807.66px;width:52.25px;height:44.17px;background:#f0e6e3"></div>
<div class="c sb2" style="left:1520.44px;top:807.66px;width:52.25px;height:44.17px;background:#ab6a61"><b class="w">**</b></div>
<div class="c sb2" style="left:1571.89px;top:807.66px;width:52.25px;height:44.17px;background:#f1e7e5"></div>
<div class="c sb2" style="left:1623.34px;top:807.66px;width:52.25px;height:44.17px;background:#cdd7e2"></div>
<div class="c sb2" style="left:1674.78px;top:807.66px;width:52.25px;height:44.17px;background:#b3786f"><b class="k">*</b></div>
<div class="c sb2" style="left:1726.22px;top:807.66px;width:52.25px;height:44.17px;background:#d1d9e3"></div>
<div class="c sb2" style="left:1777.67px;top:807.66px;width:52.25px;height:44.17px;background:#9b4d43"><b class="w">**</b></div>
<div class="c sb2" style="left:1829.12px;top:807.66px;width:52.25px;height:44.17px;background:#f5efed"></div>
<div class="c sb2" style="left:1880.56px;top:807.66px;width:52.25px;height:44.17px;background:#d7dde5"></div>
<div class="c sb2" style="left:1932.01px;top:807.66px;width:52.25px;height:44.17px;background:#c69b94"></div>
<div class="c sb2" style="left:1983.45px;top:807.66px;width:52.25px;height:44.17px;background:#c3958e"></div>
<div class="c sb2" style="left:2034.89px;top:807.66px;width:52.25px;height:44.17px;background:#c3958e"></div>
<div class="c sb2" style="left:2086.34px;top:807.66px;width:52.25px;height:44.17px;background:#b57c74"><b class="k">*</b></div>
<div class="c sb2" style="left:2137.78px;top:807.66px;width:52.25px;height:44.17px;background:#d9bdb8"></div>
<div class="c sb2" style="left:2189.23px;top:807.66px;width:52.25px;height:44.17px;background:#8ca8c9"></div>
<div class="c sb2" style="left:2240.68px;top:807.66px;width:52.25px;height:44.17px;background:#b67e76"><b class="k">*</b></div>
<div class="c sb2" style="left:2292.12px;top:807.66px;width:52.25px;height:44.17px;background:#b9837c"><b class="k">*</b></div>
<div class="c sb2" style="left:2343.57px;top:807.66px;width:52.25px;height:44.17px;background:#a1574d"><b class="w">**</b></div>
<div class="c sb2" style="left:2395.01px;top:807.66px;width:51.45px;height:44.17px;background:#8b3024"><b class="w">**</b></div>
<div class="c sb2" style="left:1469.00px;top:851.03px;width:52.25px;height:43.37px;background:#e1e4e9"></div>
<div class="c sb2" style="left:1520.44px;top:851.03px;width:52.25px;height:43.37px;background:#5883b5"><b class="w">**</b></div>
<div class="c sb2" style="left:1571.89px;top:851.03px;width:52.25px;height:43.37px;background:#e1e4e9"></div>
<div class="c sb2" style="left:1623.34px;top:851.03px;width:52.25px;height:43.37px;background:#eadad7"></div>
<div class="c sb2" style="left:1674.78px;top:851.03px;width:52.25px;height:43.37px;background:#5c86b7"><b class="w">*</b></div>
<div class="c sb2" style="left:1726.22px;top:851.03px;width:52.25px;height:43.37px;background:#eadad7"></div>
<div class="c sb2" style="left:1777.67px;top:851.03px;width:52.25px;height:43.37px;background:#366ba8"><b class="w">**</b></div>
<div class="c sb2" style="left:1829.12px;top:851.03px;width:52.25px;height:43.37px;background:#f5efed"></div>
<div class="c sb2" style="left:1880.56px;top:851.03px;width:52.25px;height:43.37px;background:#eadad7"></div>
<div class="c sb2" style="left:1932.01px;top:851.03px;width:52.25px;height:43.37px;background:#94adcc"></div>
<div class="c sb2" style="left:1983.45px;top:851.03px;width:52.25px;height:43.37px;background:#94adcc"></div>
<div class="c sb2" style="left:2034.89px;top:851.03px;width:52.25px;height:43.37px;background:#94adcc"></div>
<div class="c sb2" style="left:2086.34px;top:851.03px;width:52.25px;height:43.37px;background:#7396bf"><b class="k">*</b></div>
<div class="c sb2" style="left:2137.78px;top:851.03px;width:52.25px;height:43.37px;background:#cdd7e2"></div>
<div class="c sb2" style="left:2189.23px;top:851.03px;width:52.25px;height:43.37px;background:#cda6a0"></div>
<div class="c sb2" style="left:2240.68px;top:851.03px;width:52.25px;height:43.37px;background:#638bb9"><b class="k">*</b></div>
<div class="c sb2" style="left:2292.12px;top:851.03px;width:52.25px;height:43.37px;background:#6e93bd"><b class="k">*</b></div>
<div class="c sb2" style="left:2343.57px;top:851.03px;width:52.25px;height:43.37px;background:#366ba8"><b class="w">**</b></div>
<div class="c sb2" style="left:2395.01px;top:851.03px;width:52.25px;height:43.37px;background:#14539b"><b class="w">**</b></div>
<div class="c sb2" style="left:2446.45px;top:851.03px;width:51.45px;height:43.37px;background:#8b3024"><b class="w">**</b></div>
<svg class="axs" width="2500" height="994" viewBox="0 0 2500 994"><rect x="1468.40" y="25.70" width="1.80" height="870.60" fill="#000"/><rect x="1468.40" y="893.90" width="1031.20" height="2.40" fill="#000"/></svg>
<div class="rl" style="left:1153.6px;top:33.7px;width:300px">Al</div>
<div class="rl" style="left:1153.6px;top:77.1px;width:300px">Fe</div>
<div class="rl" style="left:1153.6px;top:120.4px;width:300px">Ca</div>
<div class="rl" style="left:1153.6px;top:163.8px;width:300px">K</div>
<div class="rl" style="left:1153.6px;top:207.2px;width:300px">Mg</div>
<div class="rl" style="left:1153.6px;top:250.5px;width:300px">Na</div>
<div class="rl" style="left:1153.6px;top:293.9px;width:300px">OM</div>
<div class="rl" style="left:1153.6px;top:337.3px;width:300px">NH<span class="sb g">4</span>Cl-P</div>
<div class="rl" style="left:1153.6px;top:380.6px;width:300px">BD-P</div>
<div class="rl" style="left:1153.6px;top:424.0px;width:300px">NaOH-rP</div>
<div class="rl" style="left:1153.6px;top:467.4px;width:300px">HCl-P</div>
<div class="rl" style="left:1153.6px;top:510.8px;width:300px">NaOH-nrP</div>
<div class="rl" style="left:1153.6px;top:554.1px;width:300px">TP</div>
<div class="rl" style="left:1153.6px;top:597.5px;width:300px">Q<span class="sb g2">max</span></div>
<div class="rl" style="left:1153.6px;top:640.9px;width:300px">K<span class="sb">d</span></div>
<div class="rl" style="left:1153.6px;top:684.2px;width:300px">a<span class="sb">2</span></div>
<div class="rl" style="left:1153.6px;top:727.6px;width:300px">a<span class="sb">3</span></div>
<div class="rl" style="left:1153.6px;top:771.0px;width:300px">Clay</div>
<div class="rl" style="left:1153.6px;top:814.3px;width:300px">Silt</div>
<div class="rl" style="left:1153.6px;top:857.7px;width:300px">Sand</div>
<div class="cl" style="left:1113.1px;top:892.4px">Al</div>
<div class="cl" style="left:1164.6px;top:892.4px">Fe</div>
<div class="cl" style="left:1216.0px;top:892.4px">Ca</div>
<div class="cl" style="left:1267.5px;top:892.4px">K</div>
<div class="cl" style="left:1318.9px;top:892.4px">Mg</div>
<div class="cl" style="left:1370.3px;top:892.4px">Na</div>
<div class="cl" style="left:1421.8px;top:892.4px">OM</div>
<div class="cl" style="left:1473.2px;top:892.4px">NH<span class="sb g">4</span>Cl-P</div>
<div class="cl" style="left:1524.7px;top:892.4px">BD-P</div>
<div class="cl" style="left:1576.1px;top:892.4px">NaOH-rP</div>
<div class="cl" style="left:1627.6px;top:892.4px">HCl-P</div>
<div class="cl" style="left:1679.0px;top:892.4px">NaOH-nrP</div>
<div class="cl" style="left:1730.5px;top:892.4px">TP</div>
<div class="cl" style="left:1781.9px;top:892.4px">Q<span class="sb g2">max</span></div>
<div class="cl" style="left:1833.4px;top:892.4px">K<span class="sb">d</span></div>
<div class="cl" style="left:1884.8px;top:892.4px">a<span class="sb">2</span></div>
<div class="cl" style="left:1936.2px;top:892.4px">a<span class="sb">3</span></div>
<div class="cl" style="left:1987.7px;top:892.4px">Clay</div>
<div class="cl" style="left:2039.1px;top:892.4px">Silt</div>
<div class="cl" style="left:2090.6px;top:892.4px">Sand</div>
<div class="cb" style="left:1304.0px;top:703.8px;width:36.5px;height:188.7px"></div>
<div class="cbt" style="left:1285.0px;top:656.8px">Cor(R)</div>
<div class="tk" style="left:1350.0px;top:691.3px">1</div>
<div class="tk" style="left:1350.0px;top:786.1px">0</div>
<div class="tk" style="left:1349.5px;top:879.5px">-1</div>
</body></html>
